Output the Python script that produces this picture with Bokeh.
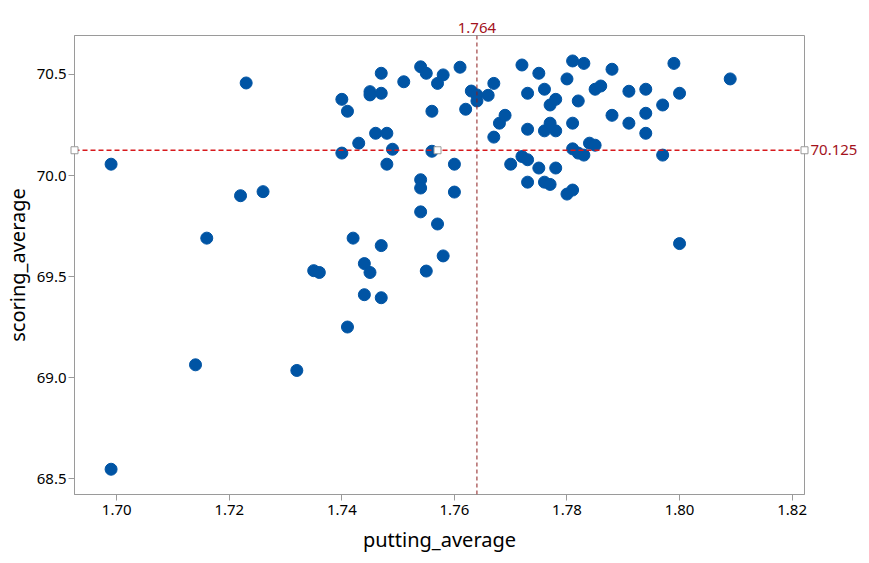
from bokeh.plotting import figure
from bokeh.models import Span, Range1d, FixedTicker, LinearAxis
from bokeh.embed import file_html
from bokeh.resources import INLINE

putting_average = [
    1.699, 1.699, 1.714, 1.716, 1.722, 1.726, 1.732, 1.735, 1.736, 1.723,
    1.741, 1.742, 1.743, 1.744, 1.744, 1.745, 1.747, 1.747, 1.740, 1.741,
    1.745, 1.745, 1.747, 1.747, 1.746, 1.748, 1.748, 1.749, 1.740, 1.751,
    1.754, 1.755, 1.758, 1.757, 1.761, 1.763, 1.764, 1.764, 1.766, 1.767,
    1.762, 1.756, 1.756, 1.760, 1.754, 1.754, 1.760, 1.754, 1.757, 1.758,
    1.755, 1.767, 1.768, 1.769, 1.770, 1.772, 1.773, 1.775, 1.773, 1.776,
    1.777, 1.772, 1.775, 1.773, 1.776, 1.777, 1.773, 1.776, 1.777, 1.778,
    1.778, 1.781, 1.783, 1.780, 1.788, 1.785, 1.786, 1.782, 1.791, 1.794,
    1.799, 1.800, 1.797, 1.809, 1.781, 1.788, 1.791, 1.794, 1.794, 1.784,
    1.785, 1.781, 1.782, 1.783, 1.797, 1.778, 1.780, 1.781, 1.800,
]
scoring_average = [
    70.056, 68.546, 69.063, 69.690, 69.900, 69.920, 69.035, 69.529, 69.520, 70.458,
    69.250, 69.690, 70.160, 69.564, 69.410, 69.520, 69.653, 69.395, 70.377, 70.318,
    70.415, 70.399, 70.506, 70.407, 70.209, 70.209, 70.056, 70.130, 70.111, 70.464,
    70.538, 70.506, 70.498, 70.456, 70.536, 70.418, 70.399, 70.369, 70.397, 70.456,
    70.328, 70.318, 70.120, 70.056, 69.979, 69.938, 69.918, 69.820, 69.760, 69.602,
    69.527, 70.190, 70.259, 70.298, 70.056, 70.094, 70.078, 70.037, 69.967, 69.967,
    69.956, 70.547, 70.506, 70.407, 70.427, 70.349, 70.229, 70.221, 70.259, 70.377,
    70.221, 70.567, 70.555, 70.478, 70.526, 70.427, 70.443, 70.369, 70.417, 70.427,
    70.555, 70.407, 70.349, 70.478, 70.259, 70.298, 70.259, 70.308, 70.209, 70.160,
    70.150, 70.132, 70.111, 70.101, 70.101, 70.037, 69.908, 69.928, 69.663,
]

mean_x = 1.764
mean_y = 70.125
x_ticks = [1.70, 1.72, 1.74, 1.76, 1.78, 1.80, 1.82]
y_ticks = [68.5, 69.0, 69.5, 70.0, 70.5]
x_lo, x_hi = 1.6925, 1.8222
y_lo, y_hi = 68.421, 70.693
handle_x = [x_lo, 1.757, x_hi]

FONT = "Noto Sans"
LABEL_RED = "#a3121c"
LINE_RED = "#d7191c"
GREY = "#9a9a9a"

p = figure(width=869, height=563, output_backend="svg", toolbar_location=None,
           x_range=Range1d(x_lo, x_hi), y_range=Range1d(y_lo, y_hi),
           min_border_left=72, min_border_right=65, min_border_top=35,
           min_border_bottom=69)

p.xgrid.visible = False
p.ygrid.visible = False
p.outline_line_color = GREY
p.outline_line_width = 1
p.background_fill_color = "white"
p.border_fill_color = "white"

for ax in (p.xaxis[0], p.yaxis[0]):
    ax.axis_line_color = GREY
    ax.major_tick_line_color = GREY
    ax.minor_tick_line_color = None
    ax.major_tick_out = 6
    ax.major_tick_in = 0
    ax.major_label_text_font = FONT
    ax.major_label_text_font_size = "15px"
    ax.major_label_text_color = "#000000"
    ax.axis_label_text_font = FONT
    ax.axis_label_text_font_size = "20px"
    ax.axis_label_text_font_style = "normal"
    ax.axis_label_text_color = "#000000"

p.xaxis.ticker = FixedTicker(ticks=x_ticks)
p.yaxis.ticker = FixedTicker(ticks=y_ticks)
p.xaxis.major_label_overrides = {t: f"{t:.2f}" for t in x_ticks}
p.yaxis.major_label_overrides = {t: f"{t:.1f}" for t in y_ticks}
p.xaxis.axis_label = "putting_average"
p.yaxis.axis_label = "scoring_average"
p.xaxis.major_label_standoff = 4
p.yaxis.major_label_standoff = 2
p.xaxis.axis_label_standoff = 8
p.yaxis.axis_label_standoff = 3

# mean markers shown as value labels on extra axes
top_axis = LinearAxis(ticker=FixedTicker(ticks=[mean_x]),
                      major_label_overrides={mean_x: f"{mean_x:.3f}"})
right_axis = LinearAxis(ticker=FixedTicker(ticks=[mean_y]),
                        major_label_overrides={mean_y: f"{mean_y:.3f}"})
for ax in (top_axis, right_axis):
    ax.axis_line_color = None
    ax.major_tick_line_color = None
    ax.minor_tick_line_color = None
    ax.major_tick_out = 0
    ax.major_tick_in = 0
    ax.major_label_text_font = FONT
    ax.major_label_text_font_size = "15px"
    ax.major_label_text_color = LABEL_RED
top_axis.major_label_standoff = 3
right_axis.major_label_standoff = 6
p.add_layout(top_axis, "above")
p.add_layout(right_axis, "right")

p.scatter(putting_average, scoring_average, size=12, fill_color="#0054a4",
          line_color="#0054a4", line_width=1)

p.add_layout(Span(location=mean_x, dimension="height", line_color="#8c1c1c",
                  line_dash="4 3", line_width=1))
p.add_layout(Span(location=mean_y, dimension="width", line_color=LINE_RED,
                  line_dash="5 3", line_width=1.3))

p.scatter(handle_x, [mean_y] * len(handle_x), marker="square", size=7,
          fill_color="white", line_color=GREY, line_width=1, level="overlay")

open("out.html", "w").write(file_html(p, INLINE))
